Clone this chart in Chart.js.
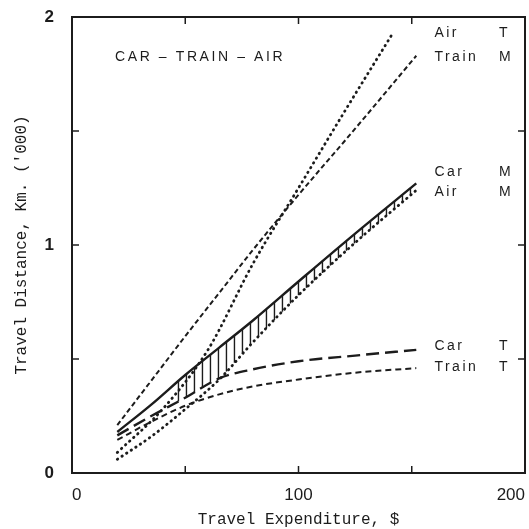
<!DOCTYPE html>
<html>
<head>
<meta charset="utf-8">
<script src="https://cdn.jsdelivr.net/npm/chart.js@4.4.1/dist/chart.umd.min.js"></script>
<style>
  html, body { margin: 0; padding: 0; background: #fff; }
  #wrap { width: 529px; height: 529px; }
</style>
</head>
<body>
<div id="wrap"><canvas id="chart" width="529" height="529"></canvas></div>
<script>
const spend = [20, 35, 50, 65, 80, 100, 125, 152];
const spendAirT = [20, 40, 60, 80, 100, 120, 141.7];

// travel distance ('000 km)
const airT   = [0.09, 0.28, 0.54, 0.92, 1.25, 1.58, 1.93];
const trainM = [0.21, 0.405, 0.60, 0.79, 0.98, 1.22, 1.51, 1.83];
const carM   = [0.18, 0.30, 0.43, 0.55, 0.67, 0.84, 1.05, 1.27];
const airM   = [0.06, 0.16, 0.28, 0.41, 0.575, 0.78, 1.01, 1.24];
const carT   = [0.165, 0.25, 0.33, 0.415, 0.455, 0.49, 0.515, 0.54];
const trainT = [0.145, 0.225, 0.295, 0.345, 0.38, 0.41, 0.44, 0.46];

// axes
const xTicks = [0, 50, 100, 150, 200];
const yTicks = [0, 0.5, 1, 1.5, 2];
const xLabels = [0, 100, 200];
const yLabels = [0, 1, 2];

// labels at the curve ends: mode, T / M, height ('000 km)
const endNames = ["Air", "Train", "Car", "Air", "Car", "Train"];
const endKinds = ["T", "M", "M", "M", "T", "T"];
const endLevels = [1.93, 1.825, 1.32, 1.232, 0.557, 0.465];

// hatched band (car M above the others) from this spend on
const hatchFrom = 47;

const ink = "#1c1c1c";

function pairs(xs, ys) {
    return xs.map((x, i) => ({ x: x, y: ys[i] }));
}

function interp(xs, ys, v) {
    for (let i = 1; i < xs.length; i++) {
        if (v <= xs[i]) {
            const t = (v - xs[i - 1]) / (xs[i] - xs[i - 1]);
            return ys[i - 1] + t * (ys[i] - ys[i - 1]);
        }
    }
    return ys[ys.length - 1];
}

// vertical hatching between Car M and the higher of Car T / Air M
const hatch = {
    id: "hatch",
    afterDatasetsDraw(chart) {
        const { ctx, scales: { x, y } } = chart;
        const p0 = x.getPixelForValue(hatchFrom);
        const p1 = x.getPixelForValue(spend[spend.length - 1]);
        ctx.save();
        ctx.strokeStyle = ink;
        ctx.lineWidth = 1.4;
        for (let px = p0; px <= p1; px += 8) {
            const v = x.getValueForPixel(px);
            const top = interp(spend, carM, v);
            const bottom = Math.max(interp(spend, carT, v), interp(spend, airM, v));
            ctx.beginPath();
            ctx.moveTo(px, y.getPixelForValue(top));
            ctx.lineTo(px, y.getPixelForValue(bottom));
            ctx.stroke();
        }
        ctx.restore();
    }
};

// box round the plot with inward ticks on all sides
const frame = {
    id: "frame",
    afterDraw(chart) {
        const { ctx, chartArea: a, scales: { x, y } } = chart;
        ctx.save();
        ctx.strokeStyle = ink;
        ctx.lineWidth = 2;
        ctx.strokeRect(a.left, a.top, a.right - a.left, a.bottom - a.top);
        ctx.lineWidth = 1.5;
        const seg = (x0, y0, x1, y1) => {
            ctx.beginPath();
            ctx.moveTo(x0, y0);
            ctx.lineTo(x1, y1);
            ctx.stroke();
        };
        xTicks.slice(1, -1).forEach(v => {
            const px = x.getPixelForValue(v);
            seg(px, a.top, px, a.top + 7);
            seg(px, a.bottom, px, a.bottom - 7);
        });
        yTicks.slice(1, -1).forEach(v => {
            const py = y.getPixelForValue(v);
            seg(a.left, py, a.left + 7, py);
            seg(a.right, py, a.right - 7, py);
        });
        ctx.restore();
    }
};

// heading and curve names
const notes = {
    id: "notes",
    afterDraw(chart) {
        const { ctx, chartArea: a, scales: { x, y } } = chart;
        ctx.save();
        ctx.fillStyle = ink;
        ctx.font = "14px 'Liberation Sans', Arial, sans-serif";
        ctx.textBaseline = "middle";
        ctx.textAlign = "left";
        ctx.letterSpacing = "2.6px";
        ctx.fillText("CAR \u2013 TRAIN \u2013 AIR", a.left + 43, y.getPixelForValue(1.825));
        const nameX = x.getPixelForValue(160);
        const kindX = x.getPixelForValue(188.5);
        endNames.forEach((name, i) => {
            const py = y.getPixelForValue(endLevels[i]);
            ctx.letterSpacing = "2.5px";
            ctx.fillText(name, nameX, py);
            ctx.letterSpacing = "0px";
            ctx.fillText(endKinds[i], kindX, py);
        });
        ctx.restore();
    }
};

const dotted = { borderDash: [0.5, 5], borderCapStyle: "round", borderWidth: 2.8 };

new Chart(document.getElementById("chart"), {
    type: "line",
    data: {
        datasets: [
            { label: "Air T", data: pairs(spendAirT, airT), ...dotted },
            { label: "Train M", data: pairs(spend, trainM), borderDash: [5, 3] },
            { label: "Car M", data: pairs(spend, carM), borderWidth: 2.4 },
            { label: "Air M", data: pairs(spend, airM), ...dotted },
            { label: "Car T", data: pairs(spend, carT), borderDash: [13, 6], borderWidth: 2.4 },
            { label: "Train T", data: pairs(spend, trainT), borderDash: [6, 4] }
        ]
    },
    options: {
        responsive: false,
        animation: false,
        layout: { padding: { top: 17, right: 4, left: 0, bottom: 0 } },
        elements: {
            point: { radius: 0 },
            line: { borderColor: ink, borderWidth: 2, cubicInterpolationMode: "monotone", fill: false }
        },
        plugins: { legend: { display: false }, tooltip: { enabled: false } },
        scales: {
            x: {
                type: "linear",
                min: 0,
                max: 200,
                afterFit: s => { s.height = 56; s.paddingLeft = 0; s.paddingRight = 0; },
                grid: { display: false, drawTicks: false },
                border: { display: false },
                ticks: {
                    stepSize: 50,
                    align: "inner",
                    padding: 12,
                    color: ink,
                    font: { family: "'Liberation Sans', Arial, sans-serif", size: 17 },
                    callback: v => xLabels.includes(v) ? String(v) : ""
                },
                title: {
                    display: true,
                    text: "Travel Expenditure, $",
                    color: ink,
                    font: { family: "'Liberation Mono', monospace", size: 16 },
                    padding: { top: 0, bottom: 0 }
                }
            },
            y: {
                type: "linear",
                min: 0,
                max: 2,
                afterFit: s => { s.width = 72; s.paddingTop = 0; s.paddingBottom = 0; },
                grid: { display: false, drawTicks: false },
                border: { display: false },
                ticks: {
                    stepSize: 0.5,
                    padding: 18,
                    color: ink,
                    font: { family: "'Liberation Sans', Arial, sans-serif", size: 17, weight: "bold" },
                    callback: v => yLabels.includes(v) ? String(v) : ""
                },
                title: {
                    display: true,
                    text: "Travel Distance, Km. ('000)",
                    color: ink,
                    font: { family: "'Liberation Mono', monospace", size: 16 },
                    padding: { top: 12, bottom: 0 }
                }
            }
        }
    },
    plugins: [hatch, frame, notes]
});
</script>
</body>
</html>
